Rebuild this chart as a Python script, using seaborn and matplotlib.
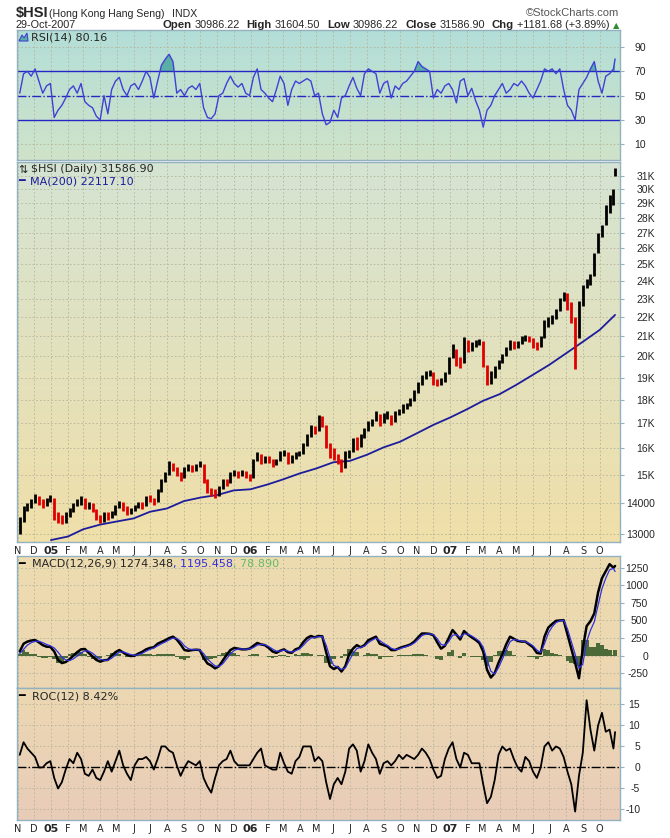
import numpy as np
import pandas as pd
import matplotlib
matplotlib.use("Agg")
import matplotlib.pyplot as plt
from matplotlib.colors import LinearSegmentedColormap
from matplotlib.patches import Polygon
from matplotlib.ticker import NullLocator
import seaborn as sns

# weekly values (Fridays from 5-Nov-2004, last bar 29-Oct-2007)
close = [13450, 13800, 13900, 14050, 14250, 14050, 13950, 14100, 14230,
         13550, 13500, 13400, 13600, 13750, 13950, 14050, 14150,
         13900, 13950, 13800, 13550, 13450, 13650, 13550, 13650, 13900,
         14050, 13850, 13700, 13800, 13900, 13950, 13900, 14200,
         14150, 14050, 14450, 14800, 15000, 15400, 15250, 15050, 14900,
         15250, 15300, 15200, 15350, 15450, 14800, 14450, 14400, 14300,
         14550, 14750, 14700, 15050, 15100, 15000, 15100, 15000, 14900,
         15550, 15750, 15500, 15600, 15550, 15400, 15500, 15850,
         15850, 15500, 15650, 15800, 15850, 16150, 16500, 16850, 16700,
         17250, 17000, 16150, 15800, 15650, 15500, 15250, 15800, 15800,
         16300, 16050, 16450, 16700, 17000, 17100, 17400, 17000,
         17300, 17350, 17050, 17400, 17500, 17700, 17750, 18000, 18350,
         18700, 19000, 19150, 19250, 18800, 18750, 18850, 19150, 19900,
         20400, 19800, 19700, 20750, 20350, 20550, 20650, 20700,
         19700, 18900, 19100, 19450, 19750, 20000, 20350, 20700, 20500,
         20650, 20900, 20950, 20850, 20550, 20500, 20900, 21750, 21800,
         21900, 22350, 22900, 23300, 22700, 22000, 21200, 22700, 23700,
         24000, 24200, 25600, 26800, 27300, 28500, 29300, 29800, 31587]

high = [13550, 13900, 14000, 14150, 14330, 14250, 14150, 14200, 14300,
        14200, 13700, 13600, 13700, 13850, 14000, 14150, 14250,
        14200, 14050, 14000, 13800, 13600, 13700, 13700, 13750, 13950,
        14100, 14050, 13900, 13850, 13950, 14050, 14050, 14250,
        14300, 14200, 14500, 14850, 15100, 15500, 15450, 15300, 15100,
        15300, 15400, 15350, 15400, 15500, 15400, 14850, 14550, 14500,
        14600, 14850, 14850, 15100, 15200, 15150, 15200, 15150, 15050,
        15600, 15850, 15800, 15700, 15700, 15600, 15600, 15900,
        15950, 15850, 15750, 15850, 15900, 16200, 16550, 16950, 16900,
        17350, 17300, 16950, 16200, 16000, 15800, 15600, 15900, 15950,
        16400, 16450, 16550, 16800, 17100, 17200, 17500, 17400,
        17450, 17500, 17350, 17500, 17600, 17800, 17850, 18100, 18450,
        18800, 19100, 19300, 19350, 19250, 18950, 19000, 19250, 19950,
        20600, 20350, 19950, 20950, 20800, 20700, 20800, 20850,
        20750, 19600, 19300, 19550, 19850, 20100, 20450, 20800, 20750,
        20750, 21000, 21050, 21000, 20900, 20700, 21000, 21850, 22000,
        22100, 22450, 23050, 23400, 23300, 22800, 22000, 22850, 23800,
        24150, 24400, 25700, 27000, 27500, 28900, 29600, 30050, 31604]

low = [13000, 13400, 13750, 13850, 14000, 13950, 13850, 13900, 14050,
       13450, 13350, 13320, 13350, 13550, 13700, 13900, 13950,
       13800, 13800, 13700, 13450, 13350, 13400, 13450, 13500, 13600,
       13850, 13750, 13600, 13650, 13750, 13850, 13800, 13900,
       14050, 13950, 14050, 14400, 14750, 15000, 15150, 14950, 14800,
       14900, 15150, 15100, 15150, 15300, 14700, 14350, 14250, 14200,
       14250, 14500, 14600, 14700, 14950, 14900, 14950, 14900, 14800,
       14900, 15500, 15400, 15450, 15450, 15300, 15350, 15500,
       15700, 15400, 15450, 15600, 15700, 15800, 16100, 16450, 16550,
       16700, 16850, 16000, 15650, 15550, 15400, 15100, 15250, 15650,
       15850, 15950, 16050, 16400, 16700, 16900, 17100, 16900,
       17000, 17200, 16950, 17050, 17350, 17450, 17600, 17750, 17950,
       18300, 18650, 18950, 19050, 18650, 18600, 18650, 18800, 19150,
       19900, 19550, 19450, 19700, 20200, 20250, 20450, 20550,
       19500, 18650, 18700, 19000, 19400, 19700, 20000, 20300, 20350,
       20400, 20600, 20750, 20700, 20400, 20300, 20450, 20900, 21500,
       21650, 21900, 22350, 22850, 22400, 21700, 19400, 20900, 22600,
       23600, 23800, 24300, 25700, 26700, 27500, 28300, 28900, 30986]

# 200-day moving average, first of each month from Jan-2005, then 29-Oct-2007
ma200 = [12810, 12920, 13150, 13300, 13400, 13500, 13720, 13830, 14080, 14200,
         14290, 14450, 14490, 14660, 14840, 15060, 15240, 15470, 15520, 15750,
         16040, 16260, 16600, 16940, 17250, 17600, 17950, 18250, 18660, 19130,
         19600, 20160, 20740, 21330, 22117]

rsi = [52, 68, 70, 66, 72, 62, 52, 58, 60, 32,
       38, 42, 48, 55, 58, 52, 60, 45, 42, 40,
       33, 30, 50, 35, 55, 62, 65, 55, 50, 58,
       60, 55, 62, 70, 65, 48, 62, 75, 80, 84,
       78, 52, 55, 50, 56, 58, 55, 60, 40, 32,
       31, 35, 50, 52, 60, 66, 60, 57, 60, 52,
       50, 65, 72, 55, 52, 48, 45, 55, 66, 60,
       42, 55, 62, 60, 62, 64, 62, 50, 52, 35,
       26, 28, 38, 32, 48, 50, 58, 65, 56, 50,
       68, 72, 70, 68, 52, 60, 62, 48, 58, 55,
       60, 62, 66, 70, 78, 74, 72, 70, 48, 55,
       52, 58, 60, 55, 44, 62, 64, 50, 56, 46,
       38, 24, 38, 42, 50, 55, 60, 52, 55, 60,
       58, 62, 58, 52, 48, 55, 62, 72, 70, 72,
       68, 72, 55, 42, 38, 30, 55, 60, 65, 72,
       78, 62, 52, 66, 68, 72, 80.16]

macd = [60, 170, 200, 215, 222, 190, 150, 128, 125, 60,
        -60, -105, -90, -50, 0, 50, 90, 95, 40, -10,
        -60, -85, -65, -60, 0, 50, 80, 45, 10, -5,
        0, 30, 55, 90, 110, 120, 170, 195, 220, 250,
        270, 230, 160, 80, 70, 80, 85, 80, -30, -110,
        -140, -180, -150, -70, 10, 80, 110, 100, 90, 90,
        100, 140, 180, 160, 150, 110, 60, 40, 70, 90,
        50, 40, 90, 110, 190, 250, 280, 260, 280, 275,
        50, -150, -190, -160, -225, -150, 20, 100, 150, 120,
        150, 220, 245, 270, 170, 150, 130, 80, 80, 105,
        125, 140, 160, 200, 260, 315, 315, 310, 290, 190,
        100, 140, 250, 364, 300, 230, 350, 300, 260, 225,
        180, 60, -200, -310, -250, -100, 20, 160, 270, 240,
        210, 200, 200, 160, 120, 40, 30, 270, 400, 450,
        495, 500, 505, 300, 100, -100, -320, 100, 420, 490,
        600, 900, 1100, 1200, 1300, 1250, 1274.348]

signal = [30, 90, 150, 185, 205, 205, 185, 160, 140, 110,
          50, -20, -60, -70, -45, -5, 40, 70, 65, 35,
          -10, -50, -65, -65, -35, 10, 50, 55, 35, 15,
          5, 15, 35, 65, 90, 110, 140, 170, 195, 225,
          250, 245, 205, 140, 100, 85, 85, 82, 30, -45,
          -100, -145, -155, -115, -45, 25, 75, 95, 95, 92,
          95, 115, 150, 160, 155, 130, 95, 65, 65, 80,
          65, 50, 70, 95, 145, 205, 250, 260, 270, 272,
          150, -30, -140, -160, -195, -175, -70, 30, 100, 120,
          135, 185, 220, 250, 215, 175, 145, 105, 85, 95,
          115, 130, 150, 180, 230, 285, 305, 310, 300, 240,
          160, 145, 200, 290, 300, 260, 310, 305, 280, 245,
          205, 120, -60, -220, -260, -170, -50, 80, 200, 230,
          220, 205, 200, 175, 140, 80, 45, 170, 320, 410,
          470, 495, 505, 380, 200, 20, -180, -120, 200, 360,
          480, 720, 950, 1100, 1220, 1240, 1195.458]

roc = [3, 6, 4.5, 3.5, 2.5, 0, 0, 1, 1.5, -2.5,
       -5, -3.5, -0.5, 2, 1, 3.5, 2, -1.5, -2, -0.5,
       -2.5, -3, -1, 1.5, -1, 1.5, 4, 0.5, -1.5, -3,
       0.5, 2, 2, 2.5, 1.5, -0.5, 2, 5, 5, 4,
       3.5, 0.5, -2, 0, 1.5, 1, 0.5, 1.5, -2.5, -4.5,
       -6, -2.5, 0.5, 1.5, 2, 4, 1.5, 0.5, 0.5, 0.5,
       0.5, 2, 3.5, 4.5, 0.5, 0, -0.5, -0.5, 3.5, 1,
       -1, -1.5, 1.5, 2.5, 5, 5, 5, 1.5, 2.5, 1.5,
       -3.5, -7.5, -4, -2.5, -4, -1, 4.5, 5.5, 4, -1,
       1.5, 5.5, 3.5, 2, -1.5, 1, 1.5, 0.5, 1.5, 3,
       2, 3, 2.5, 2, 3, 4.5, 3.5, 2, -0.5, -2.5,
       -2, 2, 4.5, 6, 2, 0, 3.5, 3, 1, 1,
       1, -4, -8.5, -7, -3, 3, 5, 4, 4.5, 2,
       0, -1, 2.5, 1.5, -1, -2.5, 0, 5, 6, 4,
       5, 4.5, 2.5, -1, -4, -10.5, -2, 3.5, 16, 9,
       4, 10, 13, 8.5, 9, 4.5, 8.42]

month_labels = ["N", "D", "05", "F", "M", "A", "M", "J", "J", "A", "S", "O",
                "N", "D", "06", "F", "M", "A", "M", "J", "J", "A", "S", "O",
                "N", "D", "07", "F", "M", "A", "M", "J", "J", "A", "S", "O"]

price_ticks = [13000, 14000, 15000, 16000, 17000, 18000, 19000, 20000, 21000, 22000,
               23000, 24000, 25000, 26000, 27000, 28000, 29000, 30000, 31000]
price_labels = ["13000", "14000", "15K", "16K", "17K", "18K", "19K", "20K", "21K", "22K",
                "23K", "24K", "25K", "26K", "27K", "28K", "29K", "30K", "31K"]

W, H = 670, 838
weeks = list(pd.date_range("2004-11-05", periods=len(close) - 1, freq="W-FRI")) + [pd.Timestamp("2007-10-29")]
ma_dates = list(pd.date_range("2005-01-01", "2007-10-01", freq="MS")) + [pd.Timestamp("2007-10-29")]
months = pd.date_range("2004-11-01", "2007-10-01", freq="MS")

df = pd.DataFrame({"date": weeks, "close": close, "high": high, "low": low,
                   "rsi": rsi, "macd": macd, "signal": signal, "roc": roc})
df["hist"] = df["macd"] - df["signal"]
ma = pd.DataFrame({"date": ma_dates, "ma": ma200})

sns.set_style("white")
plt.rcParams["font.family"] = ["DejaVu Sans"]

fig = plt.figure(figsize=(W / 100, H / 100), dpi=100)
fig.patch.set_facecolor("white")


def panel(top, bottom):
    return fig.add_axes([17 / W, 1 - bottom / H, 603 / W, (bottom - top) / H])


def shade(ax, top_col, bottom_col):
    cmap = LinearSegmentedColormap.from_list("bg", [bottom_col, top_col])
    ax.imshow(np.linspace(1, 0, 64).reshape(-1, 1), cmap=cmap, aspect="auto",
              extent=(0, 1, 0, 1), transform=ax.transAxes, zorder=0,
              interpolation="bilinear")


ax_rsi = panel(30, 160)
ax_px = panel(162, 542)
ax_macd = panel(556, 688)
ax_roc = panel(688, 820)

shade(ax_rsi, "#b3ded8", "#cfe3c9")
shade(ax_px, "#d5e4d3", "#f0dfa9")
shade(ax_macd, "#eedcb0", "#ecd6b2")
shade(ax_roc, "#ecd8b1", "#e9ccb9")

# RSI
ax_rsi.fill_between(df["date"], df["rsi"], 70, where=df["rsi"] > 70, interpolate=True,
                    color="#5aaea6", zorder=2, linewidth=0)
ax_rsi.axhline(70, color="#2626c4", linewidth=1, zorder=2)
ax_rsi.axhline(30, color="#2626c4", linewidth=1, zorder=2)
ax_rsi.axhline(50, color="#2626c4", linewidth=1, linestyle="-.", zorder=2)
sns.lineplot(data=df, x="date", y="rsi", ax=ax_rsi, color="#4040d4", linewidth=1,
             estimator=None, zorder=3)

# price bars + MA
bar_colors = ["#000000"] + ["#e00000" if c < p else "#000000"
                            for p, c in zip(close[:-1], close[1:])]
ax_px.vlines(df["date"], df["low"], df["high"], colors=bar_colors, linewidth=2.0, zorder=3)
sns.lineplot(data=ma, x="date", y="ma", ax=ax_px, color="#1c1c9c", linewidth=1.3,
             estimator=None, zorder=2)
ax_px.set_yscale("log")

# MACD
ax_macd.bar(df["date"], df["hist"], width=7, color="#4b6a38", zorder=2, linewidth=0)
sns.lineplot(data=df, x="date", y="macd", ax=ax_macd, color="black", linewidth=1.8,
             estimator=None, zorder=3)
sns.lineplot(data=df, x="date", y="signal", ax=ax_macd, color="#3030e0", linewidth=0.9,
             estimator=None, zorder=4)

# ROC
ax_roc.axhline(0, color="black", linewidth=1, linestyle="-.", zorder=2)
sns.lineplot(data=df, x="date", y="roc", ax=ax_roc, color="black", linewidth=1.3,
             estimator=None, zorder=3)

settings = [
    (ax_rsi, [10, 30, 50, 70, 90], [str(v) for v in [10, 30, 50, 70, 90]], (-3, 104), 645),
    (ax_px, price_ticks, price_labels, (12750, 32050), 654),
    (ax_macd, [-250, 0, 250, 500, 750, 1000, 1250],
     ["-250", "0", "250", "500", "750", "1000", "1250"], (-459, 1416), 647),
    (ax_roc, [-10, -5, 0, 5, 10, 15], ["-10", "-5", "0", "5", "10", "15"], (-12.5, 18.9), 639),
]
for ax, ticks, labels, lims, edge in settings:
    ax.set_xlabel("")
    ax.set_ylabel("")
    ax.set_xlim(pd.Timestamp("2004-10-31"), pd.Timestamp("2007-11-07"))
    ax.set_ylim(*lims)
    ax.yaxis.tick_right()
    ax.set_yticks(ticks, labels=labels, ha="right", fontsize=7.5, family="Liberation Sans")
    ax.yaxis.set_minor_locator(NullLocator())
    ax.tick_params(axis="y", length=3, direction="out", color="#93b1bf",
                   pad=(edge - 620 - 3) * 0.72)
    ax.set_xticks(months)
    ax.grid(True, color="#b5b59a", linestyle=(0, (2, 2.5)), linewidth=0.6, zorder=1)
    ax.set_axisbelow(True)
    for s in ax.spines.values():
        s.set_color("#93b1bf")
        s.set_linewidth(1)

for ax in (ax_rsi, ax_macd):
    ax.set_xticklabels([])
    ax.tick_params(axis="x", length=0)
for ax in (ax_px, ax_roc):
    ax.set_xticklabels(month_labels, fontsize=7)
    ax.tick_params(axis="x", length=2, pad=1, direction="out", color="#93b1bf")
    for lab, txt in zip(ax.get_xticklabels(), month_labels):
        if txt.isdigit():
            lab.set_fontweight("bold")
            lab.set_fontsize(8)

# header and panel legends
renderer = fig.canvas.get_renderer()


def put(x, y, s, **kw):
    return fig.text(x / W, 1 - y / H, s, va="baseline", **kw)


def chain(x, y, pieces, right=None):
    texts = []
    for s, kw, gap in pieces:
        t = put(x, y, s, **kw)
        texts.append(t)
        x += t.get_window_extent(renderer=renderer).width + gap
    if right is not None:
        shift = (right - x) / W
        for t in texts:
            px, py = t.get_position()
            t.set_position((px + shift, py))
    return texts


lib = dict(family="Liberation Sans")
put(16, 17, "$HSI", fontsize=10.5, weight="bold", **lib)
put(49, 17, "(Hong Kong Hang Seng)", fontsize=7.6, **lib)
put(172, 17, "INDX", fontsize=7.6, **lib)
put(619, 16, "\u00a9StockCharts.com", fontsize=8, ha="right", color="#555555", **lib)
put(16, 28, "29-Oct-2007", fontsize=7.8, **lib)

bold = dict(fontsize=8.2, weight="bold", **lib)
norm = dict(fontsize=7.8, **lib)
chain(170, 28, [("Open", bold, 3), ("30986.22", norm, 7),
                ("High", bold, 3), ("31604.50", norm, 7),
                ("Low", bold, 3), ("30986.22", norm, 7),
                ("Close", bold, 3), ("31586.90", norm, 7),
                ("Chg", bold, 3), ("+1181.68 (+3.89%)", norm, 3),
                ("\u25b2", dict(fontsize=6, color="#2e8b2e"), 0)], right=619)

leg = dict(fontsize=8)
fig.add_artist(Polygon([(19 / W, 1 - 41 / H), (22 / W, 1 - 35 / H), (24 / W, 1 - 38 / H),
                        (27 / W, 1 - 33 / H), (28 / W, 1 - 41 / H)],
                       closed=True, transform=fig.transFigure, facecolor="#5aaea6",
                       edgecolor="#4040d4", linewidth=0.8))
put(31, 41, "RSI(14) 80.16", **leg)

put(18, 172.5, "\u21c5", fontsize=8)
put(31, 172.5, "$HSI (Daily) 31586.90", **leg)
put(18, 184, "\u2501", fontsize=8, color="#1c1c9c")
put(30, 184, "MA(200) 22117.10", color="#1c1c9c", **leg)

put(18, 567, "\u2501", fontsize=8, color="black")
chain(32, 567, [("MACD(12,26,9) 1274.348", leg, 0), (", 1195.458", dict(leg, color="#3030e0"), 0),
                (", 78.890", dict(leg, color="#66bb66"), 0)])

put(18, 699, "\u2501", fontsize=8, color="black")
put(32, 699, "ROC(12) 8.42%", **leg)

fig.savefig("out.png", dpi=100)
